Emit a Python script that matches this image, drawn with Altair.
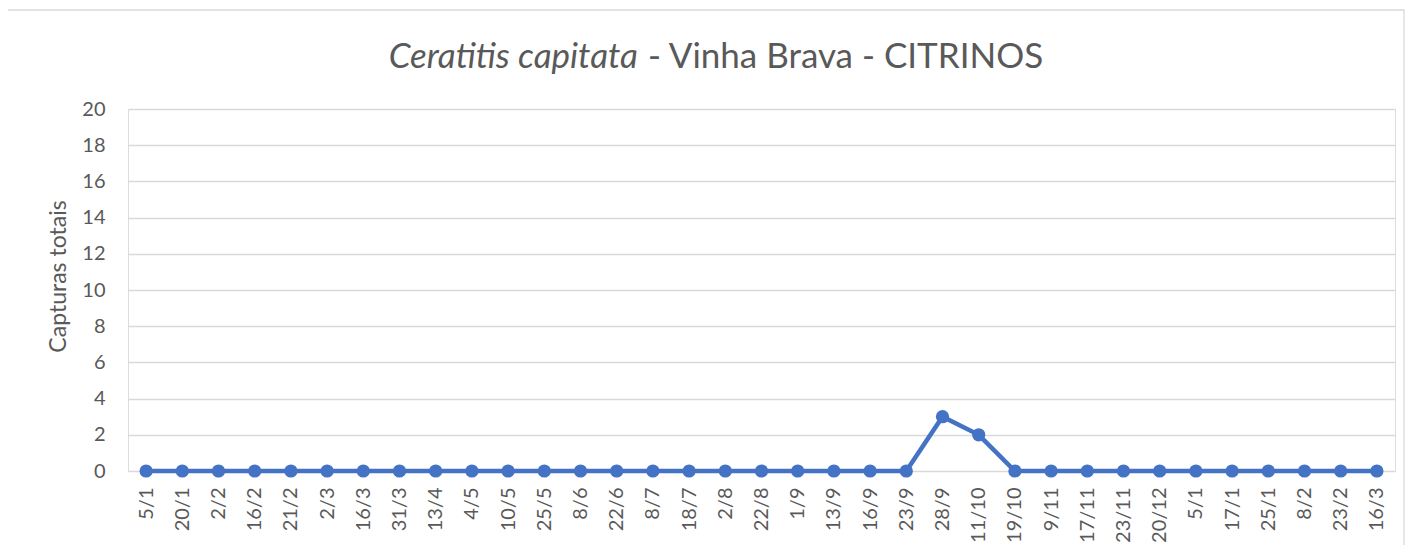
import json
import altair as alt
import pandas as pd

labels = ["5/1", "20/1", "2/2", "16/2", "21/2", "2/3", "16/3", "31/3", "13/4", "4/5",
          "10/5", "25/5", "8/6", "22/6", "8/7", "18/7", "2/8", "22/8", "1/9", "13/9",
          "16/9", "23/9", "28/9", "11/10", "19/10", "9/11", "17/11", "23/11", "20/12",
          "5/1", "17/1", "25/1", "8/2", "23/2", "16/3"]
values = [0, 0, 0, 0, 0, 0, 0, 0, 0, 0,
          0, 0, 0, 0, 0, 0, 0, 0, 0, 0,
          0, 0, 3, 2, 0, 0, 0, 0, 0,
          0, 0, 0, 0, 0, 0]

df = pd.DataFrame({"i": list(range(len(labels))), "label": labels, "v": values})
label_expr = json.dumps(labels) + "[datum.value]"

W, H = 1267, 362
grey = "#595959"
font = "Lato"

base = alt.Chart(df)

line = base.mark_line(color="#4472C4", strokeWidth=4.5,
                      point=alt.OverlayMarkDef(color="#4472C4", size=175, opacity=1, filled=True)).encode(
    x=alt.X("i:O", title=None,
            scale=alt.Scale(paddingInner=0, paddingOuter=0.5),
            axis=alt.Axis(labelExpr=label_expr, labelAngle=-90, labelAlign="right",
                          labelBaseline="middle", labelPadding=16, labelFontSize=20,
                          labelColor=grey, labelFont=font, ticks=False, domain=False,
                          grid=False)),
    y=alt.Y("v:Q", title="Capturas totais",
            scale=alt.Scale(domain=[0, 20]),
            axis=alt.Axis(values=list(range(0, 21, 2)), labelFontSize=20, labelColor=grey,
                          labelFont=font, labelPadding=23, ticks=False, domain=False,
                          gridColor="#d9d9d9", gridWidth=1.3,
                          titleFontSize=23, titleFont=font, titleColor=grey,
                          titleFontWeight="normal", titleX=-70, titleY=H / 2 - 14,
                          titleAngle=-90, titleAlign="center", titleBaseline="middle")),
)

title_df = pd.DataFrame({"a": [0]})
t1 = alt.Chart(title_df).mark_text(text="Ceratitis capitata", fontStyle="italic",
                                   fontSize=35, font=font, color=grey, align="right",
                                   baseline="middle").encode(
    x=alt.value(510), y=alt.value(-52))
t2 = alt.Chart(title_df).mark_text(text="- Vinha Brava - CITRINOS",
                                   fontSize=35, font=font, color=grey, align="left",
                                   baseline="middle").encode(
    x=alt.value(520), y=alt.value(-52))

border = alt.Chart(title_df).mark_rect(fill="white", fillOpacity=0, stroke="#d9d9d9",
                                       strokeWidth=1.3).encode(
    x=alt.value(-121), x2=alt.value(1276), y=alt.value(-99), y2=alt.value(470))

chart = alt.layer(border, line, t1, t2).properties(
    width=W, height=H,
    autosize=alt.AutoSizeParams(type="none"),
    padding={"left": 120, "top": 101, "right": 11, "bottom": 74},
).configure_view(stroke=None).configure(background="white")

chart.save("out.html", embed_options={"renderer": "svg", "actions": False})
